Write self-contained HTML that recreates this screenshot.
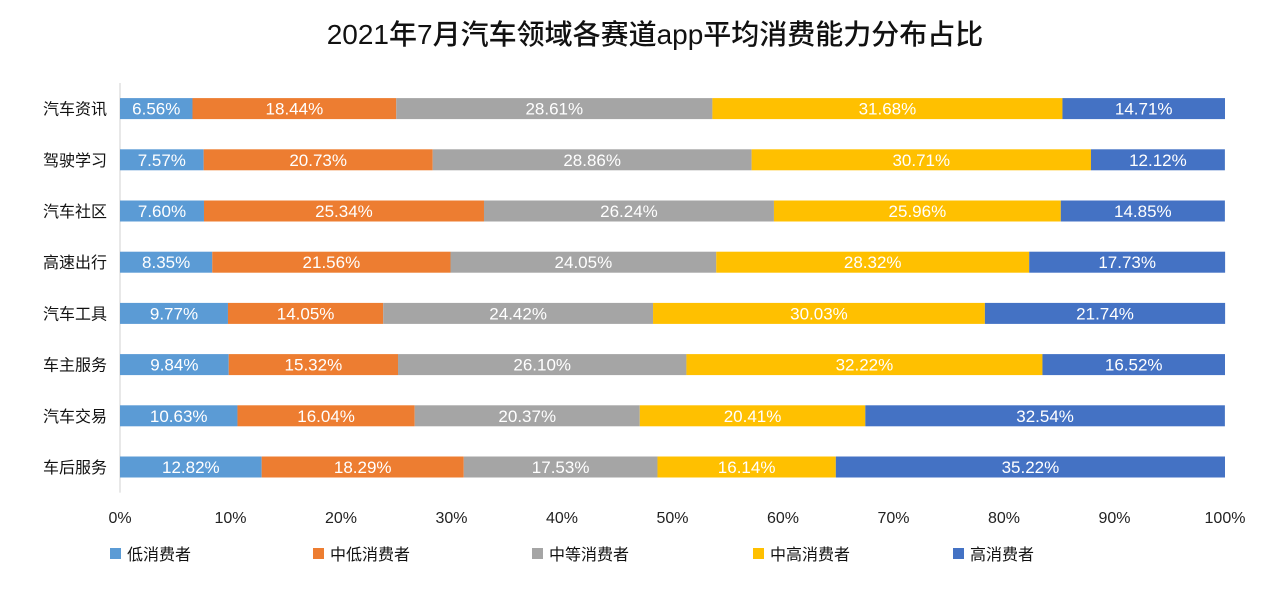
<!DOCTYPE html>
<html><head><meta charset="utf-8">
<style>
body{margin:0;background:#fff;font-family:"Liberation Sans","Noto Sans CJK SC",sans-serif;}
svg text{font-family:"Liberation Sans","Noto Sans CJK SC",sans-serif;}
</style></head>
<body>
<svg id="chart" width="1280" height="597" xmlns="http://www.w3.org/2000/svg">
<text x="655" y="44" text-anchor="middle" font-size="28" font-weight="500" fill="#111">2021年7月汽车领域各赛道app平均消费能力分布占比</text>
<g id="grid"></g>
<g id="bars"></g>
<g id="legend"></g>
</svg>
<script>
const categories=["汽车资讯","驾驶学习","汽车社区","高速出行","汽车工具","车主服务","汽车交易","车后服务"];
const seriesNames=["低消费者","中低消费者","中等消费者","中高消费者","高消费者"];
const low=[6.56,7.57,7.60,8.35,9.77,9.84,10.63,12.82];
const midLow=[18.44,20.73,25.34,21.56,14.05,15.32,16.04,18.29];
const mid=[28.61,28.86,26.24,24.05,24.42,26.10,20.37,17.53];
const midHigh=[31.68,30.71,25.96,28.32,30.03,32.22,20.41,16.14];
const high=[14.71,12.12,14.85,17.73,21.74,16.52,32.54,35.22];
const ticks=[0,10,20,30,40,50,60,70,80,90,100];
const colors=["#5b9bd5","#ed7d31","#a5a5a5","#ffc000","#4472c4"];
const NS="http://www.w3.org/2000/svg";
const x0=120,x1=1225,yTop=83,rowH=51.2,barH=21;
const xs=v=>x0+(x1-x0)*v/100;
const yc=i=>yTop+rowH*(i+0.5);
function mk(tag,attrs,parent){const e=document.createElementNS(NS,tag);for(const k in attrs)e.setAttribute(k,attrs[k]);parent.appendChild(e);return e;}
const grid=document.getElementById('grid'),bars=document.getElementById('bars'),leg=document.getElementById('legend');
const axis=mk('line',{x1:x0,x2:x0,y1:yTop,y2:yTop+rowH*categories.length,stroke:'#d0d0d0'},grid);


ticks.forEach(t=>{
  const tx=mk('text',{x:xs(t),y:523,'text-anchor':'middle','font-size':16,fill:'#222'},grid);
  tx.textContent=t+'%';
  
  
});
const series=[low,midLow,mid,midHigh,high];
categories.forEach((c,i)=>{
  const lab=mk('text',{x:107,y:yc(i)+6,'text-anchor':'end','font-size':16,fill:'#111'},bars);
  lab.textContent=c;
  
  
  let acc=0;
  series.forEach((s,k)=>{
    const v=s[i];
    const r=mk('rect',{x:xs(acc),y:yc(i)-barH/2,width:xs(acc+v)-xs(acc),height:barH,fill:colors[k]},bars);
    
    
    const t=mk('text',{x:xs(acc+v/2),y:yc(i)+6,'text-anchor':'middle','font-size':17,fill:'#fff'},bars);
    t.textContent=v.toFixed(2)+'%';
    
    
    acc+=v;
  });
});
const legX=[110,313,532,753,953];
seriesNames.forEach((n,k)=>{
  const r=mk('rect',{x:legX[k],y:548,width:11,height:11,fill:colors[k]},leg);
  
  
  const t=mk('text',{x:legX[k]+17,y:560,'font-size':16,fill:'#111'},leg);
  t.textContent=n;
  
  
});
</script>
</body></html>
